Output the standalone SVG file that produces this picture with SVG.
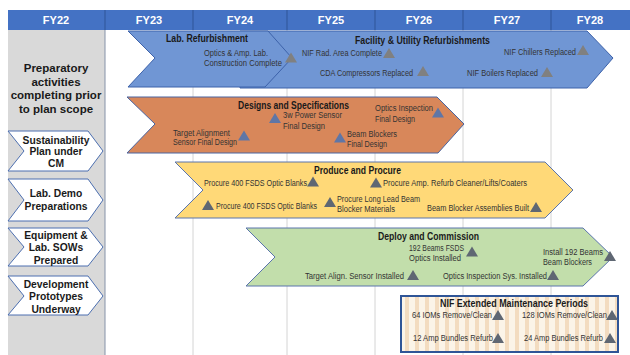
<svg xmlns="http://www.w3.org/2000/svg" xmlns:xlink="http://www.w3.org/1999/xlink" width="630" height="355" viewBox="0 0 630 355">
<style>
text{font-family:"Liberation Sans",Arial,sans-serif;}
.hd{fill:#fff;font-weight:bold;font-size:11px;text-anchor:middle;}
.lt{fill:#1a1a1a;font-weight:bold;font-size:10.3px;text-anchor:middle;}
.pt{fill:#1a1a1a;font-weight:bold;font-size:11.5px;text-anchor:middle;}
.tt{fill:#1a1a1a;font-weight:bold;font-size:10px;}
.it{fill:#333;font-size:8.3px;}
.grid{stroke:#d4d4d4;stroke-width:1;}
.lch{fill:#fff;stroke:#4c6fb0;stroke-width:1;}
.m1{fill:#808080;}
.m2{fill:#5f76a6;}
.m3{fill:#5f6773;}
</style>
<defs>
<path id="tri" d="M-6,5 L6,5 L0,-5 Z"/>
<pattern id="stripes" x="402" y="0" width="10" height="10" patternUnits="userSpaceOnUse">
<rect width="10" height="10" fill="#fbf4e8"/>
<rect x="3" width="4" height="10" fill="#f3dcc0"/>
</pattern>
</defs>
<rect width="630" height="355" fill="#fff"/>
<g id="background">
<rect x="8" y="30" width="97" height="325" fill="#d9d9d9"/>
<line x1="105" y1="30" x2="105" y2="355" stroke="#8592a8" stroke-width="1"/>
<line class="grid" x1="193" y1="30" x2="193" y2="355"/>
<line class="grid" x1="287" y1="30" x2="287" y2="355"/>
<line class="grid" x1="375" y1="30" x2="375" y2="355"/>
<line class="grid" x1="463" y1="30" x2="463" y2="355"/>
<line class="grid" x1="551" y1="30" x2="551" y2="355"/>
</g>
<g id="header">
<rect x="8" y="10" width="622" height="20" fill="#4472c4"/>
<g stroke="#2f5597" stroke-width="1">
<line x1="105" y1="10" x2="105" y2="30"/>
<line x1="193" y1="10" x2="193" y2="30"/>
<line x1="287" y1="10" x2="287" y2="30"/>
<line x1="375" y1="10" x2="375" y2="30"/>
<line x1="463" y1="10" x2="463" y2="30"/>
<line x1="551" y1="10" x2="551" y2="30"/>
</g>
<text class="hd" x="56" y="24">FY22</text>
<text class="hd" x="149" y="24">FY23</text>
<text class="hd" x="240" y="24">FY24</text>
<text class="hd" x="331" y="24">FY25</text>
<text class="hd" x="419" y="24">FY26</text>
<text class="hd" x="507" y="24">FY27</text>
<text class="hd" x="590" y="24">FY28</text>
</g>
<g id="preparatory">
<text class="pt" x="56" y="72">Preparatory</text>
<text class="pt" x="56" y="85.5">activities</text>
<text class="pt" x="56" y="99">completing prior</text>
<text class="pt" x="56" y="112.5">to plan scope</text>
</g>
<g id="sustainability">
<polygon class="lch" points="8,131 88,131 103,151 88,171 8,171 24,151"/>
<text class="lt" x="56" y="143.5">Sustainability</text>
<text class="lt" x="56" y="155">Plan under</text>
<text class="lt" x="56" y="166.5">CM</text>
</g>
<g id="labdemo">
<polygon class="lch" points="8,179 88,179 103,200 88,221 8,221 24,200"/>
<text class="lt" x="56" y="197">Lab. Demo</text>
<text class="lt" x="56" y="209.5">Preparations</text>
</g>
<g id="equipment">
<polygon class="lch" points="8,228 88,228 103,247 88,266 8,266 24,247"/>
<text class="lt" x="56" y="238.5">Equipment &amp;</text>
<text class="lt" x="56" y="251">Lab. SOWs</text>
<text class="lt" x="56" y="263.5">Prepared</text>
</g>
<g id="development">
<polygon class="lch" points="8,276 88,276 103,296 88,315 8,315 24,296"/>
<text class="lt" x="56" y="287.5">Development</text>
<text class="lt" x="56" y="300">Prototypes</text>
<text class="lt" x="56" y="312.5">Underway</text>
</g>
<g id="facility">
<polygon points="240,31 587,31 613,58 587,88 240,88" fill="#7096d4" stroke="#3d62aa" stroke-width="1"/>
<text class="tt" x="355" y="43.5" textLength="135" lengthAdjust="spacingAndGlyphs">Facility &amp; Utility Refurbishments</text>
<text class="it" x="302" y="56" textLength="80" lengthAdjust="spacingAndGlyphs">NIF Rad. Area Complete</text>
<text class="it" x="320" y="76" textLength="93" lengthAdjust="spacingAndGlyphs">CDA Compressors Replaced</text>
<text class="it" x="504" y="55" textLength="72" lengthAdjust="spacingAndGlyphs">NIF Chillers  Replaced</text>
<text class="it" x="467" y="76" textLength="71" lengthAdjust="spacingAndGlyphs">NIF Boilers  Replaced</text>
<use href="#tri" class="m1" x="389" y="53"/>
<use href="#tri" class="m1" x="423" y="71"/>
<use href="#tri" class="m1" x="583" y="50"/>
<use href="#tri" class="m1" x="547" y="72"/>
</g>
<g id="labrefurb">
<polygon points="128,31 268,31 292,58 265,87 128,87 155,58" fill="#7096d4" stroke="#3d62aa" stroke-width="1"/>
<text class="tt" x="166" y="41.5" textLength="82" lengthAdjust="spacingAndGlyphs">Lab. Refurbishment</text>
<text class="it" x="204" y="56" textLength="64" lengthAdjust="spacingAndGlyphs">Optics &amp; Amp. Lab.</text>
<text class="it" x="204" y="66" textLength="78" lengthAdjust="spacingAndGlyphs">Construction Complete</text>
<use href="#tri" class="m1" x="291" y="57.5"/>
</g>
<g id="designs">
<polygon points="127,97 437,97 464,124 438,153 127,153 155,124" fill="#d8875a" stroke="#4a64a0" stroke-width="1"/>
<text class="tt" x="238" y="108.5" textLength="111" lengthAdjust="spacingAndGlyphs">Designs and Specifications</text>
<text class="it" x="283" y="118" textLength="59" lengthAdjust="spacingAndGlyphs">3w Power Sensor</text>
<text class="it" x="283" y="129" textLength="42" lengthAdjust="spacingAndGlyphs">Final Design</text>
<text class="it" x="173" y="136" textLength="57" lengthAdjust="spacingAndGlyphs">Target Alignment</text>
<text class="it" x="173" y="145" textLength="64" lengthAdjust="spacingAndGlyphs">Sensor Final Design</text>
<text class="it" x="375" y="111" textLength="58" lengthAdjust="spacingAndGlyphs">Optics Inspection</text>
<text class="it" x="375" y="122" textLength="40" lengthAdjust="spacingAndGlyphs">Final Design</text>
<text class="it" x="347" y="137" textLength="50" lengthAdjust="spacingAndGlyphs">Beam Blockers</text>
<text class="it" x="347" y="147" textLength="40" lengthAdjust="spacingAndGlyphs">Final Design</text>
<use href="#tri" class="m2" x="275" y="118"/>
<use href="#tri" class="m2" x="244" y="135.5"/>
<use href="#tri" class="m2" x="438" y="112.5"/>
<use href="#tri" class="m2" x="340" y="137.5"/>
</g>
<g id="produce">
<polygon points="175,162 545,162 573,190 545,218 175,218 203,190" fill="#ffd978" stroke="#5a74ac" stroke-width="1"/>
<text class="tt" x="314" y="173.5" textLength="87" lengthAdjust="spacingAndGlyphs">Produce and Procure</text>
<text class="it" x="204" y="186" textLength="103" lengthAdjust="spacingAndGlyphs">Procure 400 FSDS Optic Blanks</text>
<text class="it" x="216" y="209" textLength="101" lengthAdjust="spacingAndGlyphs">Procure 400 FSDS Optic Blanks</text>
<text class="it" x="337" y="202" textLength="83" lengthAdjust="spacingAndGlyphs">Procure Long Lead Beam</text>
<text class="it" x="337" y="212" textLength="58" lengthAdjust="spacingAndGlyphs">Blocker Materials</text>
<text class="it" x="383" y="186" textLength="144" lengthAdjust="spacingAndGlyphs">Procure Amp. Refurb Cleaner/Lifts/Coaters</text>
<text class="it" x="427" y="211" textLength="102" lengthAdjust="spacingAndGlyphs">Beam Blocker Assemblies Built</text>
<use href="#tri" class="m3" x="313" y="181.5"/>
<use href="#tri" class="m3" x="208" y="205"/>
<use href="#tri" class="m3" x="330" y="202"/>
<use href="#tri" class="m3" x="376" y="182.5"/>
<use href="#tri" class="m3" x="536" y="207"/>
</g>
<g id="deploy">
<polygon points="246,228 583,228 613,257 583,286 246,286 275,257" fill="#c2deab" stroke="#5a74ac" stroke-width="1"/>
<text class="tt" x="378" y="239.5" textLength="101" lengthAdjust="spacingAndGlyphs">Deploy and Commission</text>
<text class="it" x="409" y="251" textLength="55" lengthAdjust="spacingAndGlyphs">192 Beams FSDS</text>
<text class="it" x="409" y="261" textLength="52" lengthAdjust="spacingAndGlyphs">Optics Installed</text>
<text class="it" x="543" y="255" textLength="60" lengthAdjust="spacingAndGlyphs">Install 192 Beams</text>
<text class="it" x="543" y="265" textLength="49" lengthAdjust="spacingAndGlyphs">Beam Blockers</text>
<text class="it" x="305" y="279" textLength="99" lengthAdjust="spacingAndGlyphs">Target Align. Sensor Installed</text>
<text class="it" x="443" y="279" textLength="104" lengthAdjust="spacingAndGlyphs">Optics Inspection Sys. Installed</text>
<use href="#tri" class="m3" x="472" y="251.5"/>
<use href="#tri" class="m3" x="610" y="256"/>
<use href="#tri" class="m3" x="413" y="275"/>
<use href="#tri" class="m3" x="553" y="275"/>
</g>
<g id="emp">
<rect x="401" y="296" width="217" height="56" fill="url(#stripes)" stroke="#2f5597" stroke-width="2"/>
<text class="tt" x="440" y="306.5" textLength="148" lengthAdjust="spacingAndGlyphs">NIF Extended Maintenance Periods</text>
<text class="it" x="412" y="318" textLength="80" lengthAdjust="spacingAndGlyphs">64 IOMs Remove/Clean</text>
<text class="it" x="522" y="318" textLength="85" lengthAdjust="spacingAndGlyphs">128 IOMs Remove/Clean</text>
<text class="it" x="413" y="341" textLength="80" lengthAdjust="spacingAndGlyphs">12 Amp Bundles Refurb</text>
<text class="it" x="524" y="341" textLength="79" lengthAdjust="spacingAndGlyphs">24 Amp Bundles Refurb</text>
<use href="#tri" class="m3" x="498" y="315"/>
<use href="#tri" class="m3" x="612" y="315"/>
<use href="#tri" class="m3" x="498" y="338"/>
<use href="#tri" class="m3" x="610" y="338"/>
</g>
<g id="connectors"/>
</svg>
